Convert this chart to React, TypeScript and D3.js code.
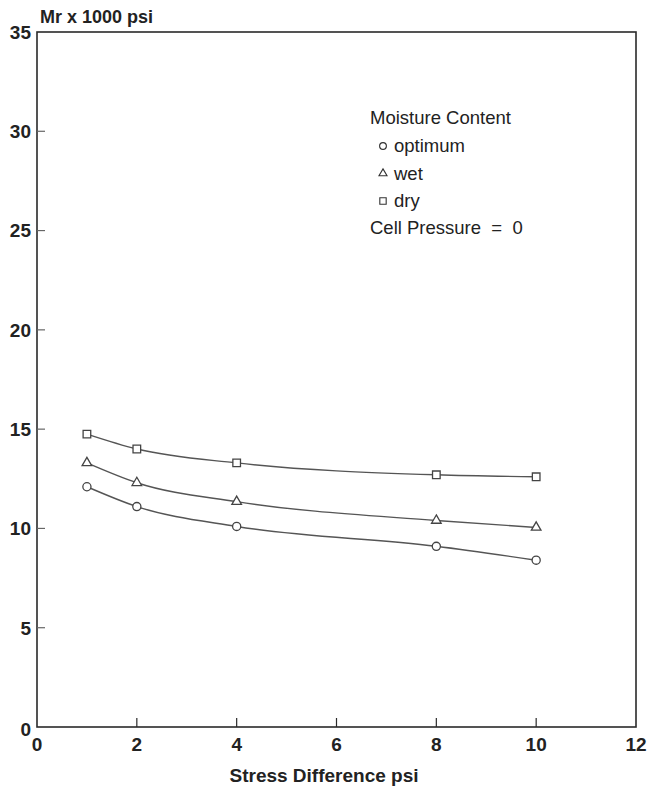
import * as d3 from 'd3';
import React, { FC, useEffect } from 'react';

const stressDiff = [1, 2, 4, 8, 10];
const optimum = [12.1, 11.1, 10.1, 9.1, 8.4];
const wet = [13.3, 12.3, 11.35, 10.4, 10.05];
const dry = [14.75, 14.0, 13.3, 12.7, 12.6];
const xTicks = [0, 2, 4, 6, 8, 10, 12];
const yTicks = [0, 5, 10, 15, 20, 25, 30, 35];
const legendItems = ['optimum', 'wet', 'dry'];

const ModulusChart: FC = () => {
	const containerDiv = React.useRef<HTMLDivElement>(null);
	const { height, width } = { height: 789, width: 652 };
	const margin = { top: 32, right: 16, bottom: 62, left: 37 };

	const drawChart = () => {
		const svg = d3
			.create('svg')
			.attr('width', width)
			.attr('height', height)
			.style('display', 'block')
			.style('background', '#fff')
			.attr('font-family', '"Liberation Sans", Arial, sans-serif');

		const x: any = d3.scaleLinear().domain([0, 12]).range([margin.left, width - margin.right]);
		const y: any = d3.scaleLinear().domain([0, 35]).range([height - margin.bottom, margin.top]);

		const ink = '#2a2a2a';

		// frame
		svg.append('rect')
			.attr('x', x(0))
			.attr('y', y(35))
			.attr('width', x(12) - x(0))
			.attr('height', y(0) - y(35))
			.attr('fill', 'none')
			.attr('stroke', ink)
			.attr('stroke-width', 1.6);

		// x axis: inward ticks
		svg.append('g')
			.selectAll('line')
			.data(xTicks.slice(1, -1))
			.join('line')
			.attr('x1', (d: any) => x(d))
			.attr('x2', (d: any) => x(d))
			.attr('y1', y(0))
			.attr('y2', y(0) - 9)
			.attr('stroke', ink)
			.attr('stroke-width', 1.2);

		svg.append('g')
			.attr('font-size', 19)
			.attr('font-weight', 'bold')
			.attr('fill', '#222')
			.attr('text-anchor', 'middle')
			.selectAll('text')
			.data(xTicks)
			.join('text')
			.attr('x', (d: any) => x(d))
			.attr('y', y(0) + 24)
			.text((d: any) => d);

		// y axis
		svg.append('g')
			.selectAll('line')
			.data(yTicks.slice(1, -1))
			.join('line')
			.attr('x1', x(0))
			.attr('x2', x(0) + 8)
			.attr('y1', (d: any) => y(d))
			.attr('y2', (d: any) => y(d))
			.attr('stroke', '#666')
			.attr('stroke-width', 1.2);

		svg.append('g')
			.attr('font-size', 19)
			.attr('font-weight', 'bold')
			.attr('fill', '#222')
			.attr('text-anchor', 'end')
			.selectAll('text')
			.data(yTicks)
			.join('text')
			.attr('x', x(0) - 6)
			.attr('y', (d: any) => y(d))
			.attr('dy', (d: any) => (d === 0 ? '0.45em' : '0.36em'))
			.text((d: any) => d);

		svg.append('text')
			.attr('x', x(0) + 3)
			.attr('y', y(35) - 9)
			.attr('font-size', 18)
			.attr('font-weight', 'bold')
			.attr('fill', '#222')
			.text('Mr x 1000 psi');

		svg.append('text')
			.attr('x', 324)
			.attr('y', 782)
			.attr('text-anchor', 'middle')
			.attr('font-size', 19)
			.attr('font-weight', 'bold')
			.attr('fill', '#222')
			.text('Stress Difference psi');

		const line = d3
			.line<number>()
			.x((d: any, i: number) => x(stressDiff[i]))
			.y((d: any) => y(d))
			.curve(d3.curveMonotoneX);

		const series = [
			{ name: 'optimum', values: optimum, symbol: d3.symbolCircle },
			{ name: 'wet', values: wet, symbol: d3.symbolTriangle },
			{ name: 'dry', values: dry, symbol: d3.symbolSquare },
		];

		const symbolSize = (s: any) => (s === d3.symbolTriangle ? 40 : s === d3.symbolSquare ? 58 : 52);

		series.forEach(s => {
			svg.append('path')
				.datum(s.values)
				.attr('fill', 'none')
				.attr('stroke', '#555')
				.attr('stroke-width', 1.4)
				.attr('d', line);

			svg.append('g')
				.selectAll('path')
				.data(s.values)
				.join('path')
				.attr('transform', (d: any, i: number) => `translate(${x(stressDiff[i])},${y(d)})`)
				.attr('d', d3.symbol().type(s.symbol).size(symbolSize(s.symbol)) as any)
				.attr('fill', '#fff')
				.attr('stroke', '#444')
				.attr('stroke-width', 1.3);
		});

		// legend
		const legend = svg.append('g').attr('font-size', 18.5).attr('fill', '#222');
		legend.append('text').attr('x', 370).attr('y', 124).text('Moisture Content');
		legendItems.forEach((name, i) => {
			const s = series.find(e => e.name === name) as any;
			const cy = 146 + i * 27.5;
			legend.append('path')
				.attr('transform', `translate(383,${cy})`)
				.attr('d', d3.symbol().type(s.symbol).size(symbolSize(s.symbol) * 0.7) as any)
				.attr('fill', 'none')
				.attr('stroke', '#333')
				.attr('stroke-width', 1.1);
			legend.append('text').attr('x', 394).attr('y', cy + 6).text(name);
		});
		legend.append('text').attr('x', 370).attr('y', 234).attr('xml:space', 'preserve').style('white-space', 'pre').text('Cell Pressure  =  0');

		return svg.node();
	};

	useEffect(() => {
		const chart = drawChart();
		const container: HTMLDivElement = containerDiv.current as HTMLDivElement;
		if (container && chart) {
			container.firstChild && container.removeChild(container.firstChild);
			container.appendChild(chart);
		}
	}, []);

	return <div ref={containerDiv} style={{ position: 'absolute', left: 0, top: 0 }}></div>;
};

export default function App() {
	return <ModulusChart />;
}
